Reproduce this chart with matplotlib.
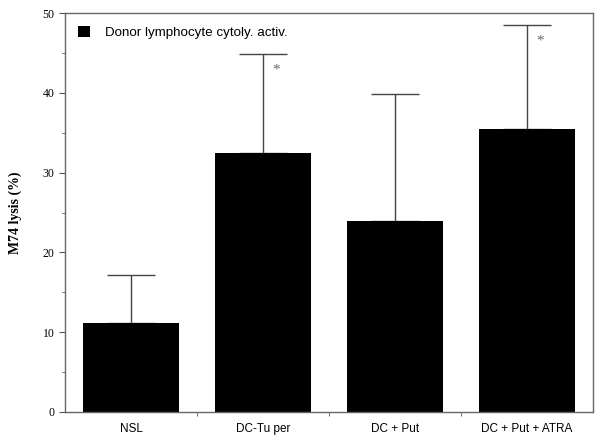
import numpy as np
import matplotlib
matplotlib.use("Agg")
from matplotlib import pyplot as plt
from matplotlib.ticker import MultipleLocator

categories = ["NSL", "DC-Tu per", "DC + Put", "DC + Put + ATRA"]
lysis = [11.2, 32.4, 23.9, 35.5]
err_up = [6.0, 12.5, 15.9, 13.0]
signif = [False, True, False, True]

fig = plt.figure(figsize=(6, 4.43), dpi=100)
ax = fig.add_axes([65/600, 1 - 412/443, 528/600, 399/443])

x = np.arange(len(categories))
ax.bar(x, lysis, width=0.72, color="black", label="Donor lymphocyte cytoly. activ.", zorder=2)
ax.errorbar(x, lysis, yerr=[np.zeros(len(x)), err_up], fmt="none", ecolor="#444444",
            elinewidth=1.0, capsize=17, capthick=1.0, zorder=1)

# asterisks for significant groups
for i in range(len(x)):
    if signif[i]:
        ax.text(x[i] + 0.1, lysis[i] + err_up[i] - 1.2, "*", fontsize=11, color="#666666",
                family="Liberation Serif", ha="center", va="top")

ax.set_xlim(-0.5, 3.5)
ax.set_ylim(0, 50)
ax.yaxis.set_major_locator(MultipleLocator(10))
ax.yaxis.set_minor_locator(MultipleLocator(5))
ax.set_xticks(x)
ax.set_xticklabels(categories, family="Liberation Sans", fontsize=8.5)
ax.set_xticks(np.arange(0.5, 3.5, 1), minor=True)
ax.tick_params(axis="x", which="major", length=0, pad=8)
ax.tick_params(axis="x", which="minor", length=3, color="#555555")
ax.tick_params(axis="y", which="major", length=4, color="#555555", labelsize=8.5)
ax.tick_params(axis="y", which="minor", length=2, color="#555555")
for lab in ax.get_yticklabels():
    lab.set_family("Liberation Serif")
for s in ax.spines.values():
    s.set_color("#666666")
    s.set_linewidth(1.0)

ax.set_ylabel("M74 lysis (%)", family="Liberation Serif", fontweight="bold", fontsize=10, labelpad=15)

leg = ax.legend(loc="upper left", frameon=False, prop={"family": "Liberation Sans", "size": 9.6},
                handlelength=0.9, handleheight=0.9, handletextpad=1.1, borderaxespad=0.6)

fig.savefig("out.png", dpi=100)
